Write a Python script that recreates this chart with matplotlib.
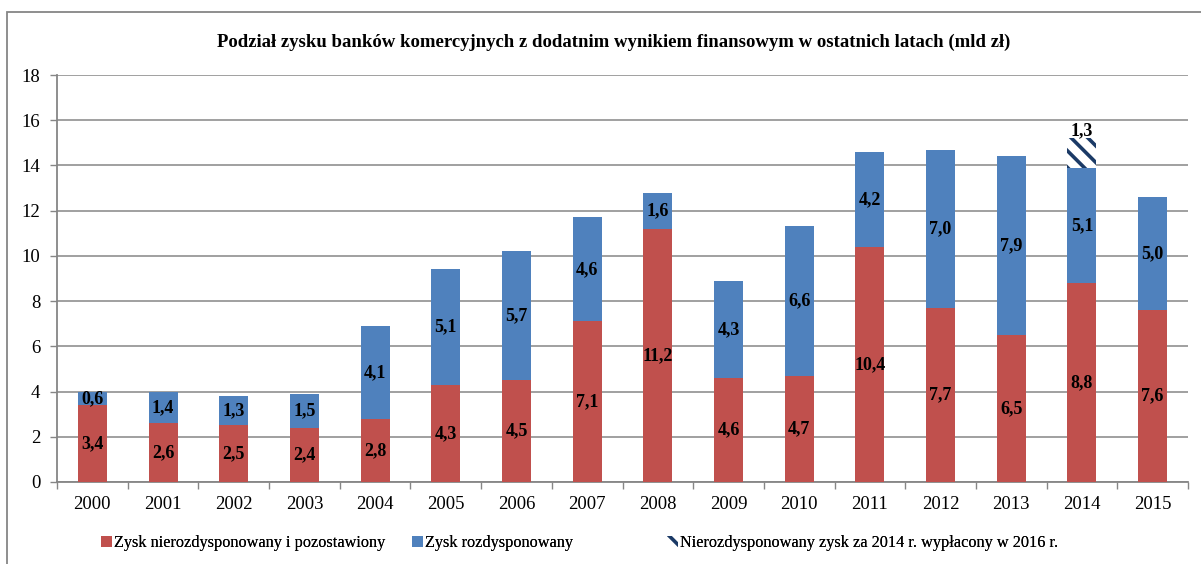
import matplotlib
matplotlib.use("Agg")
import matplotlib.pyplot as plt
from matplotlib.patches import Rectangle, Patch

plt.rcParams['font.family'] = ['Liberation Serif', 'DejaVu Serif']
plt.rcParams['hatch.linewidth'] = 2.6

years = ['2000', '2001', '2002', '2003', '2004', '2005', '2006', '2007',
         '2008', '2009', '2010', '2011', '2012', '2013', '2014', '2015']
retained = [3.4, 2.6, 2.5, 2.4, 2.8, 4.3, 4.5, 7.1, 11.2, 4.6, 4.7, 10.4, 7.7, 6.5, 8.8, 7.6]
distributed = [0.6, 1.4, 1.3, 1.5, 4.1, 5.1, 5.7, 4.6, 1.6, 4.3, 6.6, 4.2, 7.0, 7.9, 5.1, 5.0]
extra_year = '2014'
extra_value = 1.3

title = 'Podział zysku banków komercyjnych z dodatnim wynikiem finansowym w ostatnich latach (mld zł)'
legend_labels = ['Zysk nierozdysponowany i pozostawiony', 'Zysk rozdysponowany',
                 'Nierozdysponowany zysk za 2014 r. wypłacony w 2016 r.']

RED = '#C0504D'
BLUE = '#4F81BD'
NAVY = '#1B3A66'
GRAY = '#868686'

fig = plt.figure(figsize=(12.01, 5.64), dpi=100)
# figure frame
fig.patches.append(Rectangle((7/1201, -0.05), 1.2, 1 - 12/564 + 0.05, transform=fig.transFigure,
                             fill=False, edgecolor=GRAY, linewidth=1.3, zorder=0))
ax = fig.add_axes([57/1201, 1 - 482/564, (1188 - 57)/1201, (482 - 75)/564])

x = list(range(len(years)))
w = 0.41
ax.bar(x, retained, width=w, color=RED, zorder=3)
ax.bar(x, distributed, width=w, bottom=retained, color=BLUE, zorder=3)
ei = years.index(extra_year)
etop = retained[ei] + distributed[ei]
ax.bar([ei], [extra_value], width=w, bottom=[etop], facecolor='white',
       edgecolor=NAVY, hatch='\\\\', linewidth=0, zorder=3)

def fmt(v):
    return f'{v:.1f}'.replace('.', ',')

LS = 13
for i in x:
    ax.text(i, retained[i] / 2, fmt(retained[i]), ha='center', va='center',
            fontsize=LS, fontweight='bold', zorder=5)
    ax.text(i, retained[i] + distributed[i] / 2, fmt(distributed[i]), ha='center', va='center',
            fontsize=LS, fontweight='bold', zorder=5)
ax.text(ei, etop + extra_value + 0.12, fmt(extra_value), ha='center', va='baseline',
        fontsize=LS, fontweight='bold', zorder=5)

ax.set_xlim(-0.5, len(years) - 0.5)
ax.set_ylim(0, 18)
ax.set_yticks(range(0, 19, 2))
ax.set_xticks(x)
ax.set_xticklabels(years)
ax.set_xticks([i - 0.5 for i in range(len(years) + 1)], minor=True)
ax.tick_params(axis='x', which='major', length=0, pad=10, labelsize=13.5)
ax.tick_params(axis='x', which='minor', length=5, color=GRAY, width=1)
ax.tick_params(axis='y', length=5, color=GRAY, width=1, labelsize=13.5, pad=7)
ax.yaxis.grid(True, color=GRAY, linewidth=1.1, zorder=0)
ax.set_axisbelow(True)
for s in ['top', 'right']:
    ax.spines[s].set_visible(False)
for s in ['left', 'bottom']:
    ax.spines[s].set_color(GRAY)
    ax.spines[s].set_linewidth(1.3)

fig.text(614/1201, 1 - 42/564, title, ha='center', va='center', fontsize=13.5, fontweight='bold')

handles = [Patch(facecolor=RED), Patch(facecolor=BLUE),
           Patch(facecolor='white', edgecolor=NAVY, hatch='\\\\', linewidth=0)]
leg_x = [101, 412, 667]
for h, lab, lx in zip(handles, legend_labels, leg_x):
    lg = fig.legend([h], [lab], loc='center left', bbox_to_anchor=(lx/1201, 1 - 543/564),
                    frameon=False, fontsize=11.7, handlelength=0.7, handleheight=0.7,
                    handletextpad=0.12, borderpad=0, borderaxespad=0)
    fig.add_artist(lg)

fig.savefig('out.png', dpi=100)
